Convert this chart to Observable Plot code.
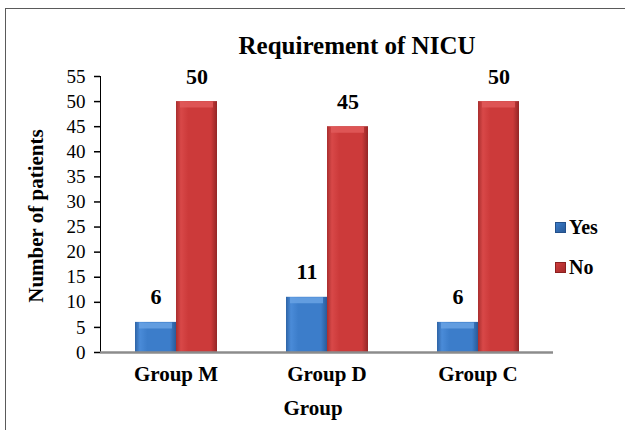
<!DOCTYPE html>
<html>
<head>
<meta charset="utf-8">
<script src="https://cdn.jsdelivr.net/npm/d3@7"></script>
<script src="https://cdn.jsdelivr.net/npm/@observablehq/plot@0.6"></script>
<style>
  body { margin: 0; background: #fff; }
  #wrap { position: relative; width: 625px; height: 430px; overflow: hidden; font-family: "Liberation Serif", "Times New Roman", serif; color: #000; }
  #frame { position: absolute; left: 5px; top: 8px; width: 760px; height: 460px; border: 1.5px solid #5a5a5a; box-sizing: border-box; }
  #chart { position: absolute; left: 0; top: 0; }
  .lbl { position: absolute; font-weight: bold; white-space: nowrap; }
  #title { left: 357px; top: 46px; font-size: 25px; transform: translate(-50%, -50%); }
  #ylab { left: 36px; top: 216px; font-size: 21px; transform: translate(-50%, -50%) rotate(-90deg); }
  #xlab { left: 313px; top: 408px; font-size: 21px; transform: translate(-50%, -50%); }
  .leg { position: absolute; left: 555px; font-size: 20px; font-weight: bold; display: flex; align-items: center; }
  .sw { width: 11px; height: 11px; margin-right: 3px; box-sizing: border-box; }
</style>
</head>
<body>
<div id="wrap">
  <div id="frame"></div>
  <div id="chart"></div>
  <div id="title" class="lbl"></div>
  <div id="ylab" class="lbl"></div>
  <div id="xlab" class="lbl"></div>
  <div id="legend"></div>
</div>
<script>
// ---- data ----
const titleText = "Requirement of NICU";
const yLabel = "Number of patients";
const xLabel = "Group";
const groups = ["Group M", "Group D", "Group C"];
const series = ["Yes", "No"];
const yesValues = [6, 11, 6];
const noValues = [50, 45, 50];
const yTicks = [0, 5, 10, 15, 20, 25, 30, 35, 40, 45, 50, 55];
const seriesColors = ["#3a7bc8", "#cf3c3c"];
const seriesTopColors = ["#69a2e4", "#e15a5a"];

const data = groups.flatMap((g, i) => [
  {group: g, series: series[0], value: yesValues[i]},
  {group: g, series: series[1], value: noValues[i]}
]);

const W = 625, H = 430, ML = 100, MR = 72, MT = 76, MB = 78;
const FONT = "'Liberation Serif', 'Times New Roman', serif";

const chart = Plot.plot({
  width: W, height: H,
  marginLeft: ML, marginRight: MR, marginTop: MT, marginBottom: MB,
  style: {fontFamily: FONT, fontSize: "19px", color: "#000", background: "transparent", overflow: "visible"},
  fx: {domain: groups, padding: 0, axis: "bottom", tickSize: 0, tickPadding: 14, label: null},
  x: {domain: series, axis: null, paddingInner: 0, paddingOuter: 0.8},
  y: {domain: [0, 55], ticks: yTicks, tickSize: 6, tickPadding: 9, line: true, label: null},
  color: {domain: series, range: ["url(#gBlue)", "url(#gRed)"]},
  marks: [
    Plot.barY(data, {fx: "group", x: "series", y: "value", fill: "series", inset: 0}),
    ...series.map((s, i) => Plot.tickY(data.filter(d => d.series === s), {
      fx: "group", x: "series", y: "value", stroke: seriesTopColors[i], strokeWidth: 6, dy: 3,
      insetLeft: 4, insetRight: 4, strokeOpacity: 0.85
    })),
    Plot.ruleY([0], {stroke: "#8c8c8c", strokeWidth: 2.5}),
    Plot.text(data, {fx: "group", x: "series", y: "value", text: "value", dy: -25, fontWeight: "bold", fontSize: 22, lineAnchor: "middle"})
  ]
});

const svg = d3.select(chart.tagName.toLowerCase() === "svg" ? chart : chart.querySelector("svg"));
svg.style("font-family", FONT);
svg.selectAll("text").style("font-family", FONT);

// gradients for the bevelled bar look
const defs = svg.insert("defs", ":first-child");
function grad(id, edge, light, body, dark) {
  const g = defs.append("linearGradient").attr("id", id).attr("x1", 0).attr("x2", 1).attr("y1", 0).attr("y2", 0);
  [[0, edge], [0.12, light], [0.3, body], [0.85, body], [1, dark]].forEach(([o, c]) =>
    g.append("stop").attr("offset", o).attr("stop-color", c));
}
grad("gBlue", "#2e64a6", "#4a8bd8", "#3c7dca", "#2a5a98");
grad("gRed", "#a92e2e", "#d84848", "#cc3a3a", "#942626");

// axis styling
svg.selectAll('g[aria-label="y-axis tick"]').attr("stroke", "#8c8c8c").attr("stroke-width", 1.5);
svg.selectAll('g[aria-label="y-axis line"]').attr("stroke", "#8c8c8c").attr("stroke-width", 1.5);
svg.selectAll('g[aria-label^="y-axis"] text').style("font-size", "19px");
svg.selectAll('g[aria-label^="fx-axis"] text').style("font-weight", "bold").style("font-size", "21px");

document.getElementById("chart").appendChild(chart);
document.getElementById("title").textContent = titleText;
document.getElementById("ylab").textContent = yLabel;
document.getElementById("xlab").textContent = xLabel;

const legend = document.getElementById("legend");
const legendTops = [216, 256];
series.forEach((s, i) => {
  const row = document.createElement("div");
  row.className = "leg";
  row.style.top = legendTops[i] + "px";
  const sw = document.createElement("div");
  sw.className = "sw";
  sw.style.background = `linear-gradient(135deg, ${seriesColors[i]}, ${i ? "#a52a2a" : "#2a5a98"})`;
  sw.style.border = `1px solid ${i ? "#8b2020" : "#24508a"}`;
  const t = document.createElement("span");
  t.textContent = s;
  row.appendChild(sw); row.appendChild(t);
  legend.appendChild(row);
});
</script>
</body>
</html>
